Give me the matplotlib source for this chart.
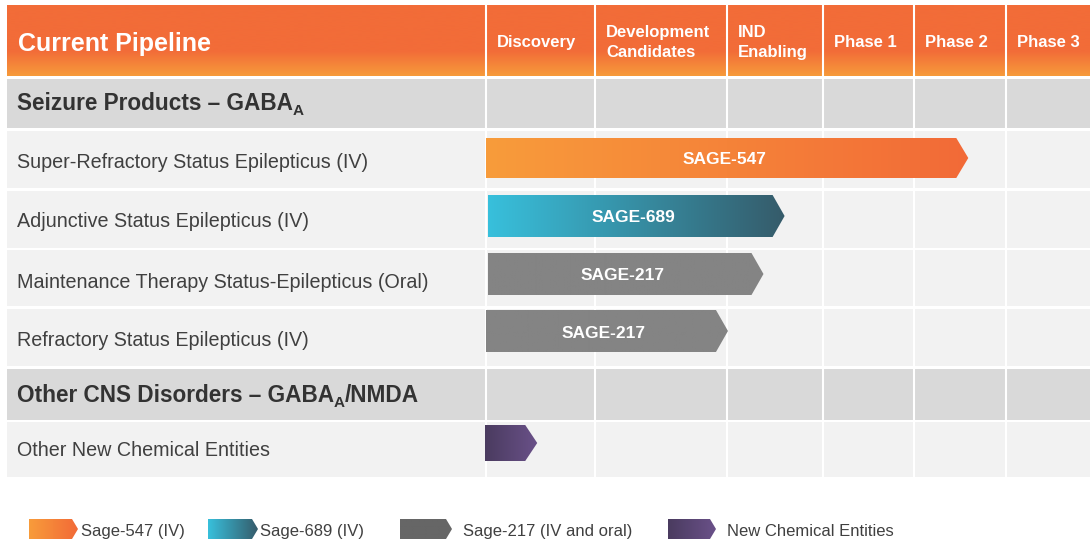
import numpy as np
import matplotlib
matplotlib.use("Agg")
import matplotlib.pyplot as plt
from matplotlib.patches import Polygon, Rectangle
from matplotlib.colors import to_rgb

plt.rcParams['font.family'] = ['Liberation Sans', 'DejaVu Sans']

# ---------------- data ----------------
stages = ['Discovery', 'Development\nCandidates', 'IND\nEnabling', 'Phase 1', 'Phase 2', 'Phase 3']
# section titles as (text, is_subscript) pieces
sections = [[('Seizure Products – GABA', False), ('A', True)],
            [('Other CNS Disorders – GABA', False), ('A', True), ('/NMDA', False)]]
indications = ['Super-Refractory Status Epilepticus (IV)',
               'Adjunctive Status Epilepticus (IV)',
               'Maintenance Therapy Status-Epilepticus (Oral)',
               'Refractory Status Epilepticus (IV)',
               'Other New Chemical Entities']
programs = ['SAGE-547', 'SAGE-689', 'SAGE-217', 'SAGE-217', '']
progress = [4.59, 2.60, 2.38, 2.01, 0.47]   # in stage units (0 = start of Discovery)
legend_labels = ['Sage-547 (IV)', 'Sage-689 (IV)', 'Sage-217 (IV and oral)', 'New Chemical Entities']

# ---------------- styles / layout ----------------
W, H = 1090, 544
col_edges = [486, 595, 727, 823, 914, 1006, 1090]
left = 7
header = (5, 76)
# row layout: (top, bottom, kind, index)
rows = [(79, 128, 'section', 0), (131, 188, 'item', 0), (191, 248, 'item', 1),
        (250, 306, 'item', 2), (309, 366, 'item', 3), (369, 420, 'section', 1),
        (422, 477, 'item', 4)]
section_baseline = [110, 402]
label_baseline = [168, 227, 288, 346, 456]
bar_center = [158, 216, 274, 331, 443]
bar_height = [40, 42, 42, 42, 36]
bar_start = [486, 488, 488, 486, 485]
bar_styles = [('#f89c3b', '#f26a37'), ('#38c0dc', '#355b6a'), ('#848484', '#848484'),
              ('#848484', '#848484'), ('#4a3b5f', '#6a5189')]
legend_styles = [('#f89c3b', '#f26a37'), ('#38c0dc', '#355b6a'), ('#666666', '#666666'),
                 ('#4a3b5f', '#6a5189')]
legend_x = [(29, 78, 81), (208, 258, 260), (400, 452, 463), (668, 716, 727)]

fig = plt.figure(figsize=(W / 100, H / 100), dpi=100)
ax = fig.add_axes([0, 0, 1, 1])
ax.axis('off')
ax.set_xlim(0, W)
ax.set_ylim(H, 0)
renderer = fig.canvas.get_renderer()


def grad_poly(verts, c1, c2, direction='h', z=3):
    poly = Polygon(verts, closed=True, facecolor='none', edgecolor='none', zorder=z)
    ax.add_patch(poly)
    xs = [v[0] for v in verts]
    ys = [v[1] for v in verts]
    a, b = np.array(to_rgb(c1)), np.array(to_rgb(c2))
    t = np.linspace(0, 1, 256)
    g = a[None, :] * (1 - t[:, None]) + b[None, :] * t[:, None]
    arr = g[None, :, :] if direction == 'h' else g[:, None, :]
    im = ax.imshow(arr, extent=(min(xs), max(xs), max(ys), min(ys)), aspect='auto',
                   interpolation='bilinear', zorder=z)
    im.set_clip_path(poly)


def arrow_verts(x0, xt, yc, h, tip):
    xf = xt - tip
    return [(x0, yc - h / 2), (xf, yc - h / 2), (xt, yc), (xf, yc + h / 2), (x0, yc + h / 2)]


# header band (vertical gradient)
hy0, hy1 = header
grad_poly([(left, hy0), (W, hy0), (W, hy1), (left, hy1)], '#f26c38', '#f26c38', 'v', z=1)
grad_poly([(left, hy0 + 46), (W, hy0 + 46), (W, hy1), (left, hy1)], '#f26c38', '#f79b3b', 'v', z=1)
ax.text(18, 51, 'Current Pipeline', color='white', fontsize=18, fontweight='bold',
        va='baseline', ha='left', zorder=5)
for i, s in enumerate(stages):
    lines = s.split('\n')
    bases = [47] if len(lines) == 1 else [37, 57]
    for ln, b in zip(lines, bases):
        ax.text(col_edges[i] + 11, b, ln, color='white', fontsize=12, fontweight='bold',
                va='baseline', ha='left', zorder=5)

# rows
for top, bot, kind, idx in rows:
    color = '#d9d9d9' if kind == 'section' else '#f2f2f2'
    ax.add_patch(Rectangle((left, top), W - left, bot - top, facecolor=color,
                           edgecolor='none', zorder=1))
    if kind == 'section':
        x = 17
        base = section_baseline[idx]
        for piece, sub in sections[idx]:
            t = ax.text(x, base + (5 if sub else 0), piece, color='#333333',
                        fontsize=11 if sub else 16.3, fontweight='bold',
                        va='baseline', ha='left', zorder=5)
            bb = t.get_window_extent(renderer=renderer)
            x = ax.transData.inverted().transform((bb.x1, bb.y0))[0]
    else:
        ax.text(17, label_baseline[idx], indications[idx], color='#404040', fontsize=14.2,
                va='baseline', ha='left', zorder=5)

# column separators
for x in col_edges[:-1]:
    ax.plot([x, x], [hy0, rows[-1][1]], color='white', lw=1.5, zorder=2)

# bars
for idx in range(len(progress)):
    xt = np.interp(progress[idx], np.arange(len(col_edges)), col_edges)
    x0 = bar_start[idx]
    yc = bar_center[idx]
    h = bar_height[idx]
    tip = 12
    c1, c2 = bar_styles[idx]
    grad_poly(arrow_verts(x0, xt, yc, h, tip), c1, c2, 'h', z=3)
    if programs[idx]:
        ax.text((x0 + xt) / 2 - 3, yc + 6.5, programs[idx], color='white', fontsize=12.5,
                fontweight='bold', ha='center', va='baseline', zorder=6)

# legend
ly = 529
for i, lab in enumerate(legend_labels):
    x0, xt, xtext = legend_x[i]
    c1, c2 = legend_styles[i]
    grad_poly(arrow_verts(x0, xt, ly, 20, 6), c1, c2, 'h', z=3)
    ax.text(xtext, ly + 7, lab, color='#404040', fontsize=12, ha='left', va='baseline', zorder=5)

ax.set_xlim(0, W)
ax.set_ylim(H, 0)
fig.savefig('out.png', dpi=100, facecolor='white')
